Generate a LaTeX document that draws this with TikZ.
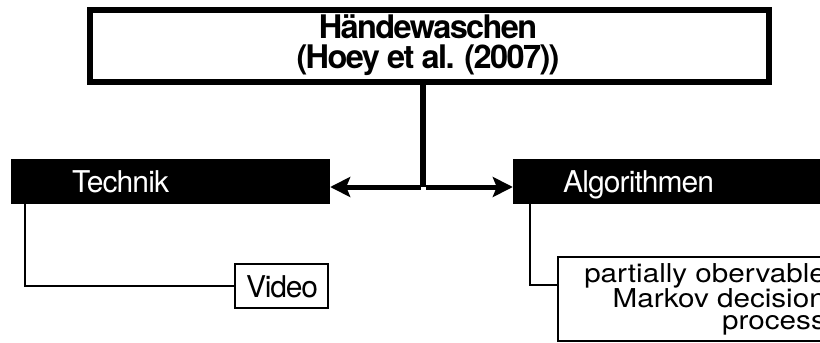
\documentclass[tikz,border=0pt]{standalone}
\usepackage{fontspec}
\usepackage{graphicx}
\setmainfont{TeX Gyre Heros}
\usetikzlibrary{arrows.meta,calc}
\tikzset{
  mainbox/.style={draw, line width=6pt, minimum width=679pt, minimum height=72pt, inner sep=0pt},
  maintext/.style={inner sep=0pt, align=center, font=\bfseries\fontsize{32.5}{29.5}\selectfont\addfontfeatures{LetterSpace=-5}},
  catbox/.style={fill=black, draw=none, minimum height=45pt, inner sep=0pt},
  cattext/.style={text=white, font=\fontsize{30}{30}\selectfont\addfontfeatures{LetterSpace=-3}, inner sep=0pt, anchor=base west},
  leafbox/.style={draw, line width=2pt, inner sep=0pt},
  thickarrow/.style={line width=5pt, -{Stealth[length=20pt,width=20pt,inset=4pt]}},
  conn/.style={line width=2pt}
}
\begin{document}
\begin{tikzpicture}[x=1pt,y=-1pt]
\useasboundingbox (0,0) rectangle (820,343);
% main
\node[mainbox] (main) at (429.5,46) {};
\node[maintext] (mtext) at (428,45) {Händewaschen\\(Hoey et al. (2007))};
% categories
\node[catbox, minimum width=319pt] (tech) at (170.5,181.5) {};
\node[cattext] (techtext) at (72,192.5) {Technik};
\node[catbox, minimum width=330pt] (alg) at (678,181.5) {};
\node[cattext] (algtext) at (563,192.5) {Algorithmen};
% leaves
\node[leafbox, minimum width=93pt, minimum height=44pt] (video) at (281.5,286) {};
\node[inner sep=0pt, anchor=base, font=\fontsize{30}{30}\selectfont\addfontfeatures{LetterSpace=-4}] (vtext) at (282,297) {Video};
\node[leafbox, minimum width=282pt, minimum height=84pt] (pomdp) at (699,299) {};
\node[inner sep=0pt, anchor=east, font=\fontsize{26}{22}\selectfont] (ptext) at (826,300)
  {\scalebox{1.14}[1]{\begin{tabular}{@{}r@{}}partially obervable\\Markov decision\\process\end{tabular}}};
% connectors
\coordinate (top) at (423,82);
\coordinate (j) at (423,187);
\draw[line width=6pt] (top) -- (j);
\draw[thickarrow] ([xshift=-2.5pt]j) -- (tech.east |- j);
\draw[thickarrow] ([xshift=2.5pt]j) -- (alg.west |- j);
\draw[conn] ([xshift=14pt]tech.south west) |- (video.west);
\draw[conn] ([xshift=17pt]alg.south west) |- ([yshift=14pt]pomdp.west);
\end{tikzpicture}
\end{document}
